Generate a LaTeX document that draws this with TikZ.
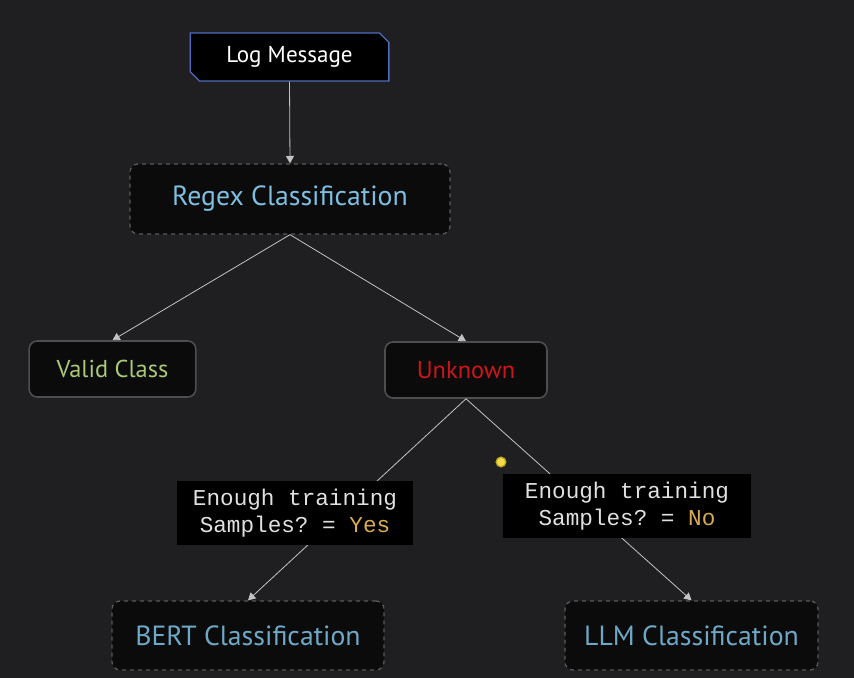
\documentclass[tikz,border=0pt]{standalone}
\usepackage{fontspec}
\setmainfont{PT Sans}
\setmonofont{Liberation Mono}
\usetikzlibrary{arrows.meta,shapes.misc}

\definecolor{bgc}{RGB}{31,31,33}
\definecolor{boxfill}{RGB}{11,11,11}
\definecolor{dashgray}{RGB}{88,88,88}
\definecolor{solidgray}{RGB}{78,78,80}
\definecolor{logblue}{RGB}{78,108,190}
\definecolor{regexblue}{RGB}{125,190,225}
\definecolor{clsblue}{RGB}{110,168,198}
\definecolor{validgreen}{RGB}{170,200,120}
\definecolor{unkred}{RGB}{205,22,28}
\definecolor{answergold}{RGB}{215,172,82}
\definecolor{linegray}{RGB}{195,195,195}

\tikzset{every picture/.style={line width=0.75pt}}
\tikzset{
  stagebox/.style={draw=dashgray, dashed, fill=boxfill, rounded corners=6pt, line width=1pt, font=\fontsize{20.8}{24}\selectfont},
  resultbox/.style={draw=solidgray, fill=boxfill, rounded corners=6pt, line width=1.2pt, font=\fontsize{18.3}{22}\selectfont},
  askbox/.style={fill=black, align=center, font=\ttfamily\fontsize{17}{20.5}\selectfont, text=white!88!black},
  flow/.style={draw=linegray, line width=0.6pt},
  flowarrow/.style={flow, -{Triangle[length=5.5pt,width=6pt]}}
}

\begin{document}
\begin{tikzpicture}[x=0.75pt,y=0.75pt,yscale=-1,xscale=1]
\fill[bgc] (0,0) rectangle (854,678);

% Text Node
\node (log) [chamfered rectangle, chamfered rectangle corners={north east,south west}, chamfered rectangle xsep=3.5pt, chamfered rectangle ysep=3.5pt, draw=logblue, fill=black, line width=1pt, minimum width=149pt, minimum height=36pt, text=white, font=\fontsize{17.3}{20}\selectfont] at (289.5,57) {Log Message};
% Rounded Rect
\node (regex) [stagebox, minimum width=240pt, minimum height=52.5pt, text=regexblue] at (290,199) {Regex Classification};
% Rounded Rect
\node (valid) [resultbox, minimum width=125pt, minimum height=42pt, text=validgreen] at (112.5,369) {Valid Class};
% Rounded Rect
\node (unknown) [resultbox, minimum width=121.5pt, minimum height=42pt, text=unkred] at (466,370) {Unknown};
% Rounded Rect
\node (bert) [stagebox, minimum width=204pt, minimum height=51.75pt, text=clsblue] at (248,635.5) {BERT Classification};
% Rounded Rect
\node (llm) [stagebox, minimum width=189.75pt, minimum height=51.75pt, text=clsblue] at (691.5,635.5) {LLM Classification};

%Straight Lines
\draw [flowarrow] (log.south) -- (regex.north);
\draw [flowarrow] (regex.south) -- (valid.north);
\draw [flowarrow] (regex.south) -- (unknown.north);
\draw [flowarrow] (unknown.south) -- (bert.north);
\draw [flowarrow] (unknown.south) -- (llm.north);

% Text Node
\node (askyes) [askbox, minimum width=177pt, minimum height=48pt] at (295,513) {Enough training\\Samples? = \textcolor{answergold}{Yes}};
% Text Node
\node (askno) [askbox, minimum width=186pt, minimum height=48pt] at (627,506) {Enough training\\Samples? = \textcolor{answergold}{No}};

%Circle
\draw [draw={rgb,255:red,190;green,170;blue,40}, fill={rgb,255:red,245;green,220;blue,70}, line width=1pt] (501,462) circle (3.6pt);

\end{tikzpicture}
\end{document}
